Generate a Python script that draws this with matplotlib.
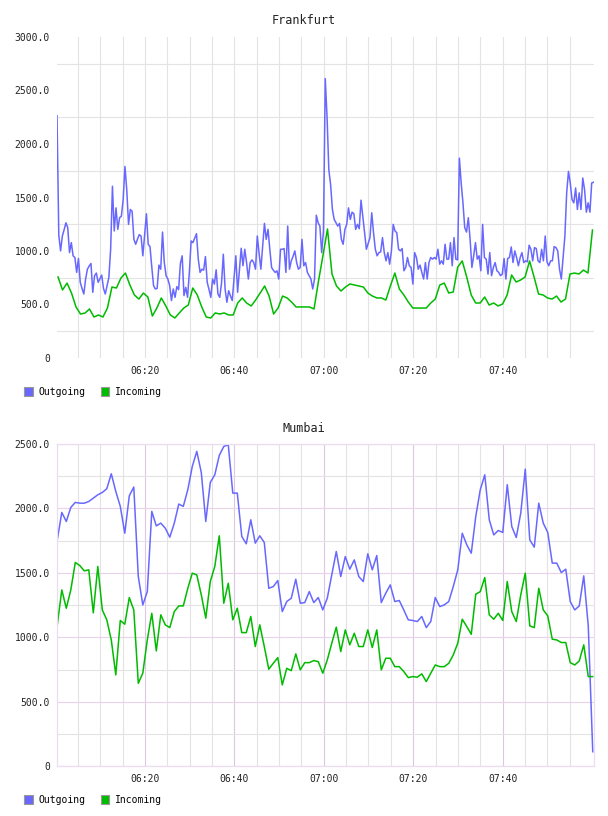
import matplotlib
matplotlib.use("Agg")
import matplotlib.pyplot as plt
import matplotlib.dates as mdates
from matplotlib.patches import Patch
from matplotlib.ticker import FixedLocator, FuncFormatter
import pandas as pd

DAY = "2024-01-01 "

# Frankfurt, outgoing traffic (one sample every ~24 s)
frankfurt_outgoing = [
    2264, 1150, 1001, 1140, 1200, 1264, 1218, 985, 1078, 955,
    939, 800, 930, 707, 650, 598, 738, 830, 860, 883,
    614, 769, 794, 707, 740, 775, 650, 598, 676, 753,
    1016, 1605, 1187, 1403, 1202, 1311, 1326, 1481, 1790, 1574,
    1249, 1388, 1372, 1109, 1063, 1110, 1153, 1140, 955, 1150,
    1348, 1063, 1041, 850, 676, 645, 651, 868, 830, 1177,
    892, 769, 738, 676, 537, 645, 567, 667, 639, 883,
    955, 583, 660, 567, 800, 1094, 1078, 1120,
    1162, 924, 800, 830, 821, 948, 707, 640, 567, 738,
    691, 824, 598, 567, 700, 970, 645, 521, 629, 580,
    537, 750, 955, 614, 820, 1026, 862, 1016, 892, 738,
    892, 917, 892, 830, 1140, 980, 830, 1047, 1258, 1109,
    1202, 1016, 846, 820, 800, 815, 738, 1016, 1016, 1023,
    800, 1233, 830, 908, 950, 1001, 892, 830, 846, 1109,
    862, 892, 800, 769, 738, 645, 738, 1335, 1264, 1233,
    985, 1187, 2611,
    2255, 1759, 1620, 1388, 1295, 1264, 1233, 1258, 1109, 1063,
    1202, 1249, 1403, 1295, 1363, 1348, 1202, 1249, 1208, 1475,
    1326, 1171, 1016, 1070, 1125, 1357, 1171, 1016, 955, 985,
    992, 1125, 985, 908, 985, 877, 1001, 1249, 1187, 1171,
    1016, 1001, 1023, 815, 846, 939, 862, 846, 691, 985,
    939, 830, 868, 800, 738, 892, 738, 892, 939, 924,
    939, 924, 1016, 877, 908, 877, 1063, 924, 924, 1078,
    862, 1125, 924, 917, 1868,
    1636, 1450, 1218, 1177, 1311, 1109, 846, 955, 1078, 924,
    955, 815, 1249, 939, 924, 784, 985, 769, 846, 892,
    815, 800, 769, 784, 930, 738, 930, 939, 1038, 892,
    1001, 939, 862, 939, 985, 892, 908, 899, 1054, 1016,
    908, 1032, 1023, 908, 892, 1016, 908, 1140, 899, 862,
    908, 908, 1041, 1032, 1001, 830, 738, 939, 1140, 1543,
    1744, 1636, 1481, 1450, 1589, 1388, 1543, 1388, 1682, 1574,
    1363, 1450, 1363, 1636, 1642,
]

# Frankfurt, incoming traffic (one sample per minute)
frankfurt_incoming = [
    757, 636, 700, 607, 477, 411, 420, 458, 383, 402,
    383, 467, 663, 654, 747, 794, 682, 589, 551, 607,
    570, 392, 467, 561, 486, 402, 374, 421, 467, 495,
    654, 589, 477, 383, 374, 421, 411, 421, 402, 402,
    514, 561, 514, 486, 542, 607, 673, 579, 411, 467,
    579, 561, 523, 477, 477, 477, 477, 458, 720, 960,
    1206, 785, 673, 626, 663, 692, 682, 673, 663, 607,
    579, 561, 561, 542, 673, 794, 645, 589, 523, 467,
    467, 467, 467, 514, 551, 682, 700, 607, 617, 850,
    907, 757, 589, 514, 514, 570, 495, 514, 486, 505,
    589, 776, 710, 729, 757, 907, 757, 598, 589, 561,
    551, 579, 523, 551, 785, 794, 785, 822, 794, 1196,
]

# Mumbai, outgoing traffic (one sample per minute)
mumbai_outgoing = [
    1757, 1969, 1899, 2008, 2047, 2041, 2041, 2054, 2080, 2106,
    2124, 2153, 2269, 2132, 2016, 1808, 2098, 2166, 1472, 1252,
    1355, 1977, 1865, 1886, 1847, 1777, 1886, 2034, 2016, 2145,
    2326, 2443, 2279, 1899, 2202, 2261, 2411, 2481, 2494, 2119,
    2119, 1783, 1726, 1912, 1731, 1788, 1736, 1381, 1394, 1441,
    1200, 1278, 1304, 1451, 1265, 1270, 1355, 1270, 1309, 1213,
    1304, 1485, 1666, 1472, 1627, 1529, 1601, 1472, 1433, 1648,
    1524, 1635, 1270, 1343, 1407, 1278, 1286, 1213, 1136, 1131,
    1123, 1162, 1076, 1123, 1309, 1239, 1252, 1278, 1394, 1524,
    1808, 1718, 1653, 1938, 2145, 2261, 1912, 1795, 1829, 1814,
    2184, 1860, 1775, 1964, 2305, 1757, 1700, 2041, 1886, 1814,
    1576, 1576, 1503, 1529, 1278, 1213, 1244, 1477, 1090, 113,
]

# Mumbai, incoming traffic (one sample per minute)
mumbai_incoming = [
    1097, 1368, 1226, 1368, 1581, 1557, 1516, 1524, 1190, 1550,
    1213, 1136, 980, 709, 1131, 1102, 1309, 1213, 644, 722,
    980, 1187, 895, 1175, 1097, 1076, 1200, 1244, 1244, 1380,
    1498, 1485, 1330, 1149, 1433, 1550, 1788, 1265, 1420, 1136,
    1226, 1037, 1037, 1162, 929, 1097, 929, 753, 799, 843,
    631, 760, 742, 872, 748, 804, 804, 820, 812, 722,
    825, 955, 1079, 890, 1058, 942, 1032, 929, 929, 1058,
    921, 1058, 748, 838, 838, 773, 773, 735, 688, 696,
    691, 717, 657, 722, 786, 773, 773, 799, 864, 955,
    1141, 1084, 1024, 1335, 1355, 1464, 1175, 1141, 1187, 1131,
    1433, 1200, 1123, 1330, 1498, 1089, 1076, 1381, 1213, 1167,
    986, 980, 960, 960, 804, 786, 817, 942, 696, 696,
]

time_ticks = ["06:20", "06:40", "07:00", "07:20", "07:40"]

OUT_COLOR = "#6868ff"
IN_COLOR = "#00bb00"
GRID_GREY = "#e3e3e3"
GRID_PINK = "#ead2ea"
GRID_PURPLE = "#dcc6e0"
FRAME = "#ecdcf0"
TEXT = "#222222"
FONT = "DejaVu Sans Mono"

plt.rcParams["font.family"] = FONT


def times(start, end, n):
    return pd.date_range(DAY + start, DAY + end, periods=n)


def y_label(v, _pos):
    return "0" if v == 0 else f"{v:.1f}"


def style_axes(ax, ymax, framed):
    ax.set_xlim(pd.Timestamp(DAY + "06:00:20"), pd.Timestamp(DAY + "08:00:20"))
    ax.set_ylim(0, ymax)
    major_x = [mdates.date2num(pd.Timestamp(DAY + t)) for t in time_ticks]
    minor_x = [mdates.date2num(t) for t in
               pd.date_range(DAY + "06:05", DAY + "07:55", freq="5min")]
    ax.xaxis.set_major_locator(FixedLocator(major_x))
    ax.xaxis.set_minor_locator(FixedLocator(minor_x))
    ax.xaxis.set_major_formatter(mdates.DateFormatter("%H:%M"))
    ax.yaxis.set_major_locator(FixedLocator(range(0, ymax + 1, 500)))
    ax.yaxis.set_minor_locator(FixedLocator(range(250, ymax, 500)))
    ax.yaxis.set_major_formatter(FuncFormatter(y_label))
    ax.tick_params(which="both", length=0, labelsize=7, colors=TEXT)
    ax.tick_params(axis="x", pad=5.5)
    ax.tick_params(axis="y", pad=5)
    ax.set_axisbelow(True)
    ax.grid(which="minor", color=GRID_GREY, lw=0.8)
    if framed:
        ax.grid(which="major", axis="y", color=GRID_PINK, lw=0.8)
        ax.grid(which="major", axis="x", color=GRID_PURPLE, lw=0.8)
        for sp in ax.spines.values():
            sp.set_color(FRAME)
            sp.set_linewidth(0.9)
    else:
        ax.grid(which="major", axis="x", color=GRID_GREY, lw=0.8)
        for sp in ax.spines.values():
            sp.set_visible(False)


def add_legend(fig, y):
    handles = [
        Patch(facecolor=OUT_COLOR, edgecolor="#999999", lw=0.8),
        Patch(facecolor=IN_COLOR, edgecolor="#999999", lw=0.8),
    ]
    fig.legend(
        handles, ["Outgoing", "Incoming"],
        loc="center left", bbox_to_anchor=(24 / 608, y),
        bbox_transform=fig.transFigure, ncol=2, frameon=False,
        fontsize=7, handlelength=0.9, handleheight=1.0,
        handletextpad=0.55, columnspacing=1.6,
        borderpad=0, borderaxespad=0,
    )


fig = plt.figure(figsize=(6.08, 8.16), dpi=100)

# Frankfurt
ax1 = fig.add_axes([57 / 608, 1 - 358 / 816, 536.5 / 608, 321 / 816])
ax1.plot(times("06:00:20", "08:00:20", len(frankfurt_outgoing)),
         frankfurt_outgoing, color=OUT_COLOR, lw=1.1)
ax1.plot(times("06:00:34", "08:00:06", len(frankfurt_incoming)),
         frankfurt_incoming, color=IN_COLOR, lw=1.1)
style_axes(ax1, 3000, framed=False)
fig.text(0.5, 1 - 20 / 816, "Frankfurt", ha="center", va="center",
         fontsize=8.5, color=TEXT)
add_legend(fig, 1 - 392 / 816)

# Mumbai
ax2 = fig.add_axes([57 / 608, 1 - 766.3 / 816, 536.5 / 608, 322.3 / 816])
ax2.plot(times("06:00:24", "08:00:10", len(mumbai_outgoing)),
         mumbai_outgoing, color=OUT_COLOR, lw=1.1)
ax2.plot(times("06:00:24", "08:00:10", len(mumbai_incoming)),
         mumbai_incoming, color=IN_COLOR, lw=1.1)
style_axes(ax2, 2500, framed=True)
fig.text(0.5, 1 - 428 / 816, "Mumbai", ha="center", va="center",
         fontsize=8.5, color=TEXT)
add_legend(fig, 1 - 800 / 816)

fig.savefig("out.png", dpi=100)
